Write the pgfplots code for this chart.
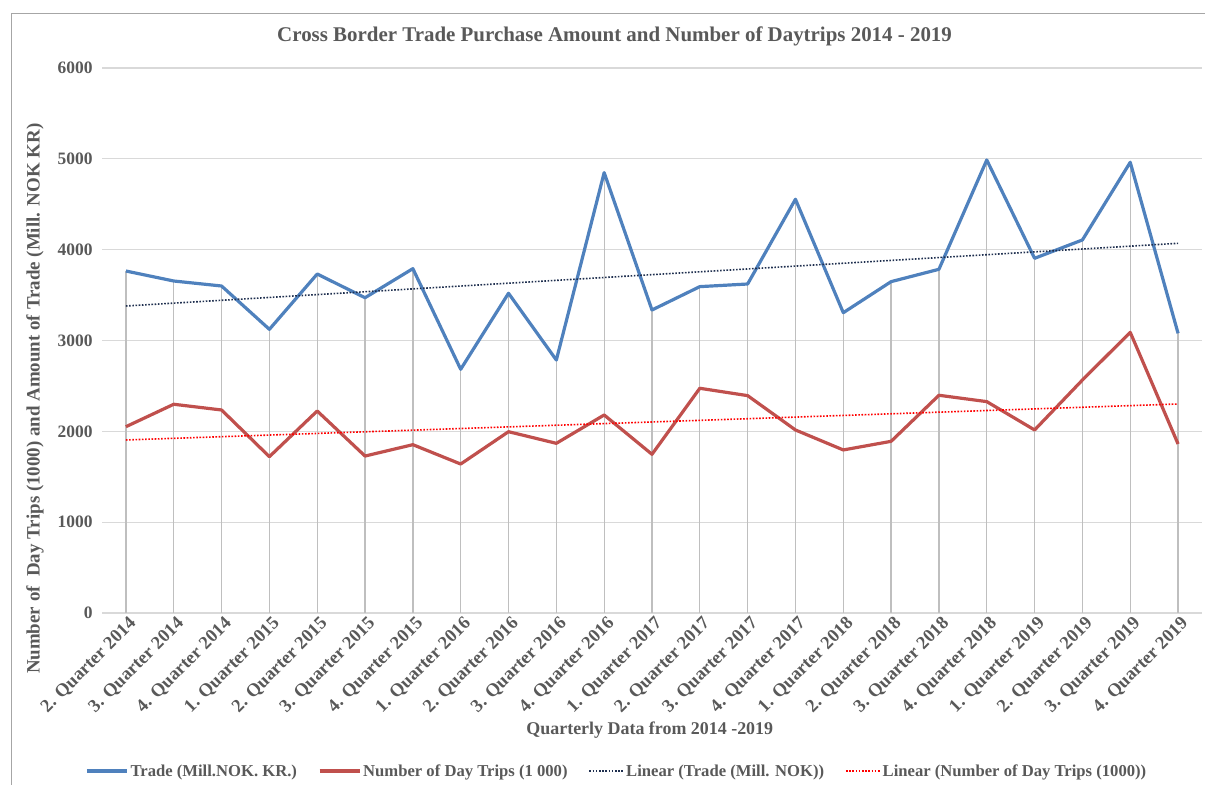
\documentclass[border=0pt]{standalone}
\usepackage{fontspec}
\setmainfont{Liberation Serif}
\usepackage{pgfplots}
\pgfplotsset{compat=1.18}
\definecolor{txt}{HTML}{595959}
\definecolor{tradeblue}{HTML}{4F81BD}
\definecolor{tripred}{HTML}{C0504D}
\definecolor{trendblue}{HTML}{1F2F4F}
\definecolor{trendred}{HTML}{FF0000}
\definecolor{gridc}{HTML}{D9D9D9}
\definecolor{dropc}{HTML}{BFBFBF}
\definecolor{framec}{HTML}{A6A6A6}
\pgfplotsset{
  solidleg/.style={legend image code/.code={\draw[##1] (0bp,0bp) -- (40bp,0bp);}},
  dotleg/.style={legend image code/.code={\draw[##1] (4bp,0bp) -- (38bp,0bp);}},
}
\begin{document}
\begin{tikzpicture}
\useasboundingbox (0,0) rectangle (1205bp,785bp);
\draw[framec, line width=1bp] (11.5bp,0) -- (11.5bp,771bp) -- (1205bp,771bp);
\begin{axis}[
  at={(102bp,172bp)}, anchor=south west,
  scale only axis, width=1100bp, height=545bp,
  xmin=0.5, xmax=23.5, ymin=0, ymax=6000,
  ytick={0,1000,...,6000},
  xtick={1,...,23},
  xticklabels={2. Quarter 2014,3. Quarter 2014,4. Quarter 2014,1. Quarter 2015,2. Quarter 2015,3. Quarter 2015,4. Quarter 2015,1. Quarter 2016,2. Quarter 2016,3. Quarter 2016,4. Quarter 2016,1. Quarter 2017,2. Quarter 2017,3. Quarter 2017,4. Quarter 2017,1. Quarter 2018,2. Quarter 2018,3. Quarter 2018,4. Quarter 2018,1. Quarter 2019,2. Quarter 2019,3. Quarter 2019,4. Quarter 2019},
  /pgf/number format/assume math mode=true,
  /pgf/number format/1000 sep={},
  axis line style={draw=none},
  tick style={draw=none},
  ymajorgrids, grid style={gridc, line width=1.3bp},
  clip=false,
  yticklabel style={font=\bfseries\fontsize{17.5}{20}\selectfont, text=txt, xshift=-6bp},
  xticklabel style={font=\bfseries\fontsize{18.5}{21}\selectfont, text=txt, rotate=45, anchor=east, yshift=-11bp, xshift=3bp},
  title={Cross Border Trade Purchase Amount and Number of Daytrips 2014 - 2019},
  title style={font=\bfseries\fontsize{21}{25}\selectfont, text=txt, at={(axis description cs:0.466,1.047)}, anchor=center},
  xlabel={Quarterly Data from 2014 -2019},
  xlabel style={font=\bfseries\fontsize{18}{21}\selectfont, text=txt, at={(axis description cs:0.498,-0.215)}, anchor=center},
  ylabel={Number of\ \ Day Trips (1000) and Amount of Trade (Mill. NOK KR)},
  ylabel style={font=\bfseries\fontsize{19}{22}\selectfont, text=txt, at={(axis description cs:-0.061,0.393)}, anchor=center, rotate=0},
  legend columns=4,
  legend style={draw=none, fill=none, at={(axis description cs:0.468,-0.29)}, anchor=center,
    font=\bfseries\fontsize{16.7}{19}\selectfont, text=txt,
    /tikz/every even column/.append style={column sep=19bp}},
]
\addplot[ycomb, dropc, line width=1.3bp, forget plot] coordinates {
(1,3765)(2,3655)(3,3600)(4,3123)(5,3732)(6,3471)(7,3791)(8,2683)(9,3520)(10,2785)(11,4848)(12,3336)(13,3593)(14,3622)(15,4555)(16,3306)(17,3648)(18,3784)(19,4987)(20,3905)(21,4107)(22,4962)(23,3079)};
\addplot[tradeblue, line width=3.2bp, line join=round, solidleg] coordinates {
(1,3765)(2,3655)(3,3600)(4,3123)(5,3732)(6,3471)(7,3791)(8,2683)(9,3520)(10,2785)(11,4848)(12,3336)(13,3593)(14,3622)(15,4555)(16,3306)(17,3648)(18,3784)(19,4987)(20,3905)(21,4107)(22,4962)(23,3079)};
\addlegendentry{Trade (Mill.NOK. KR.)}
\addplot[tripred, line width=3.2bp, line join=round, solidleg] coordinates {
(1,2051)(2,2298)(3,2235)(4,1721)(5,2224)(6,1728)(7,1853)(8,1640)(9,1996)(10,1868)(11,2180)(12,1747)(13,2474)(14,2393)(15,2015)(16,1795)(17,1890)(18,2397)(19,2327)(20,2015)(21,2565)(22,3090)(23,1861)};
\addlegendentry{Number of Day Trips (1 000)}
\addplot[trendblue, line width=1.6bp, dash pattern=on 1.6bp off 1.6bp, dotleg] coordinates {(1,3380)(23,4070)};
\addlegendentry{Linear (Trade (Mill. NOK))}
\addplot[trendred, line width=1.6bp, dash pattern=on 1.6bp off 1.6bp, dotleg] coordinates {(1,1905)(23,2301)};
\addlegendentry{Linear (Number of Day Trips (1000))}
\end{axis}
\end{tikzpicture}
\end{document}
